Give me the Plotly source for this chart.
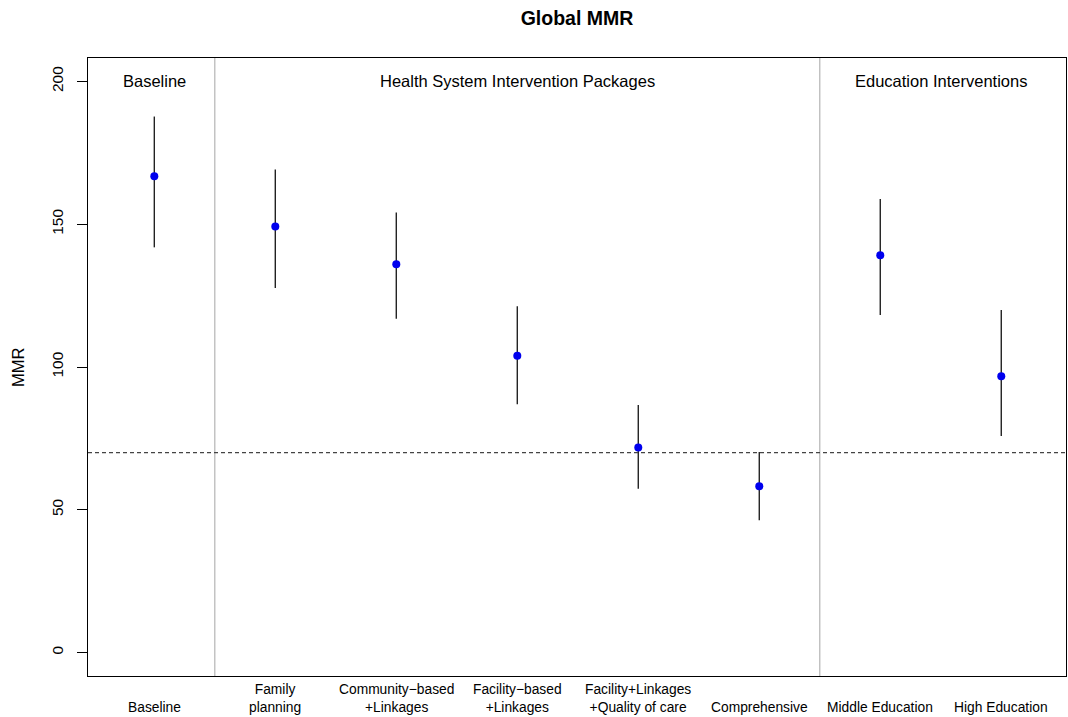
import plotly.graph_objects as go

# ---- data ----
categories = [
    "Baseline",
    "Family<br>planning",
    "Community\u2212based<br>+Linkages",
    "Facility\u2212based<br>+Linkages",
    "Facility+Linkages<br>+Quality of care",
    "Comprehensive",
    "Middle Education",
    "High Education",
]
mmr = [166.8, 149.2, 136.0, 103.9, 71.8, 58.2, 139.1, 96.8]
lower = [141.9, 127.7, 116.9, 87.0, 57.4, 46.3, 118.2, 75.8]
upper = [187.7, 169.2, 154.1, 121.3, 86.7, 70.2, 158.8, 120.0]
group_labels = ["Baseline", "Health System Intervention Packages", "Education Interventions"]
group_first = [1, 2, 7]
group_last = [1, 6, 8]
target_mmr = 70
y_ticks = [0, 50, 100, 150, 200]

FONT = "Liberation Sans, Arial, Helvetica, sans-serif"
xs = list(range(1, len(categories) + 1))

fig = go.Figure()
fig.add_trace(go.Scatter(
    x=xs, y=mmr, mode="markers",
    marker=dict(color="#0000ee", size=8),
    error_y=dict(type="data", symmetric=False,
                 array=[u - m for u, m in zip(upper, mmr)],
                 arrayminus=[m - l for m, l in zip(mmr, lower)],
                 color="#222222", thickness=1.4, width=0),
    showlegend=False, hoverinfo="skip",
))

# group separators
for i in range(1, len(group_first)):
    sep = (group_last[i - 1] + group_first[i]) / 2
    fig.add_shape(type="line", xref="x", yref="paper", x0=sep, x1=sep, y0=0, y1=1,
                  line=dict(color="#b4b4b4", width=1.2), layer="below")

# target line
fig.add_shape(type="line", xref="paper", yref="y", x0=0, x1=1, y0=target_mmr, y1=target_mmr,
              line=dict(color="#444444", width=1.3, dash="4px,3px"))

annotations = []
for lab, a, b in zip(group_labels, group_first, group_last):
    annotations.append(dict(x=(a + b) / 2, y=200, xref="x", yref="y", text=lab,
                            showarrow=False, font=dict(family=FONT, size=16.5, color="black"),
                            xanchor="center", yanchor="middle"))
for x, lab in zip(xs, categories):
    annotations.append(dict(x=x, y=-0.066, xref="x", yref="paper", text=lab,
                            showarrow=False, font=dict(family=FONT, size=13.8, color="black"),
                            xanchor="center", yanchor="bottom", align="center"))
annotations.append(dict(x=-0.0716, y=0.5, xref="paper", yref="paper", text="MMR",
                        textangle=-90, showarrow=False,
                        font=dict(family=FONT, size=16.5, color="black"),
                        xanchor="center", yanchor="middle"))

fig.update_layout(
    width=1068, height=717,
    margin=dict(l=88, r=2, t=58, b=41),
    paper_bgcolor="white", plot_bgcolor="white",
    title=dict(text="<b>Global MMR</b>", x=0.5, xref="paper", y=1 - 18 / 717,
               yref="container", xanchor="center", yanchor="middle",
               font=dict(family=FONT, size=19.5, color="black")),
    xaxis=dict(range=[0.452, 8.535], showgrid=False, zeroline=False, showticklabels=False,
               ticks="", showline=True, mirror=True, linecolor="black", linewidth=1),
    yaxis=dict(range=[-8.2, 208.2], tickvals=y_ticks, ticktext=[str(v) for v in y_ticks],
               showgrid=False, zeroline=False, ticks="outside", ticklen=10,
               tickcolor="black", tickwidth=1, tickangle=-90, ticklabelstandoff=8,
               tickfont=dict(family=FONT, size=15.5, color="black"),
               showline=True, mirror=True, linecolor="black", linewidth=1),
    annotations=annotations,
)

fig.write_html("out.html", config={"displayModeBar": False},
               post_script="document.body.style.margin='0';document.body.style.overflow='hidden';")
